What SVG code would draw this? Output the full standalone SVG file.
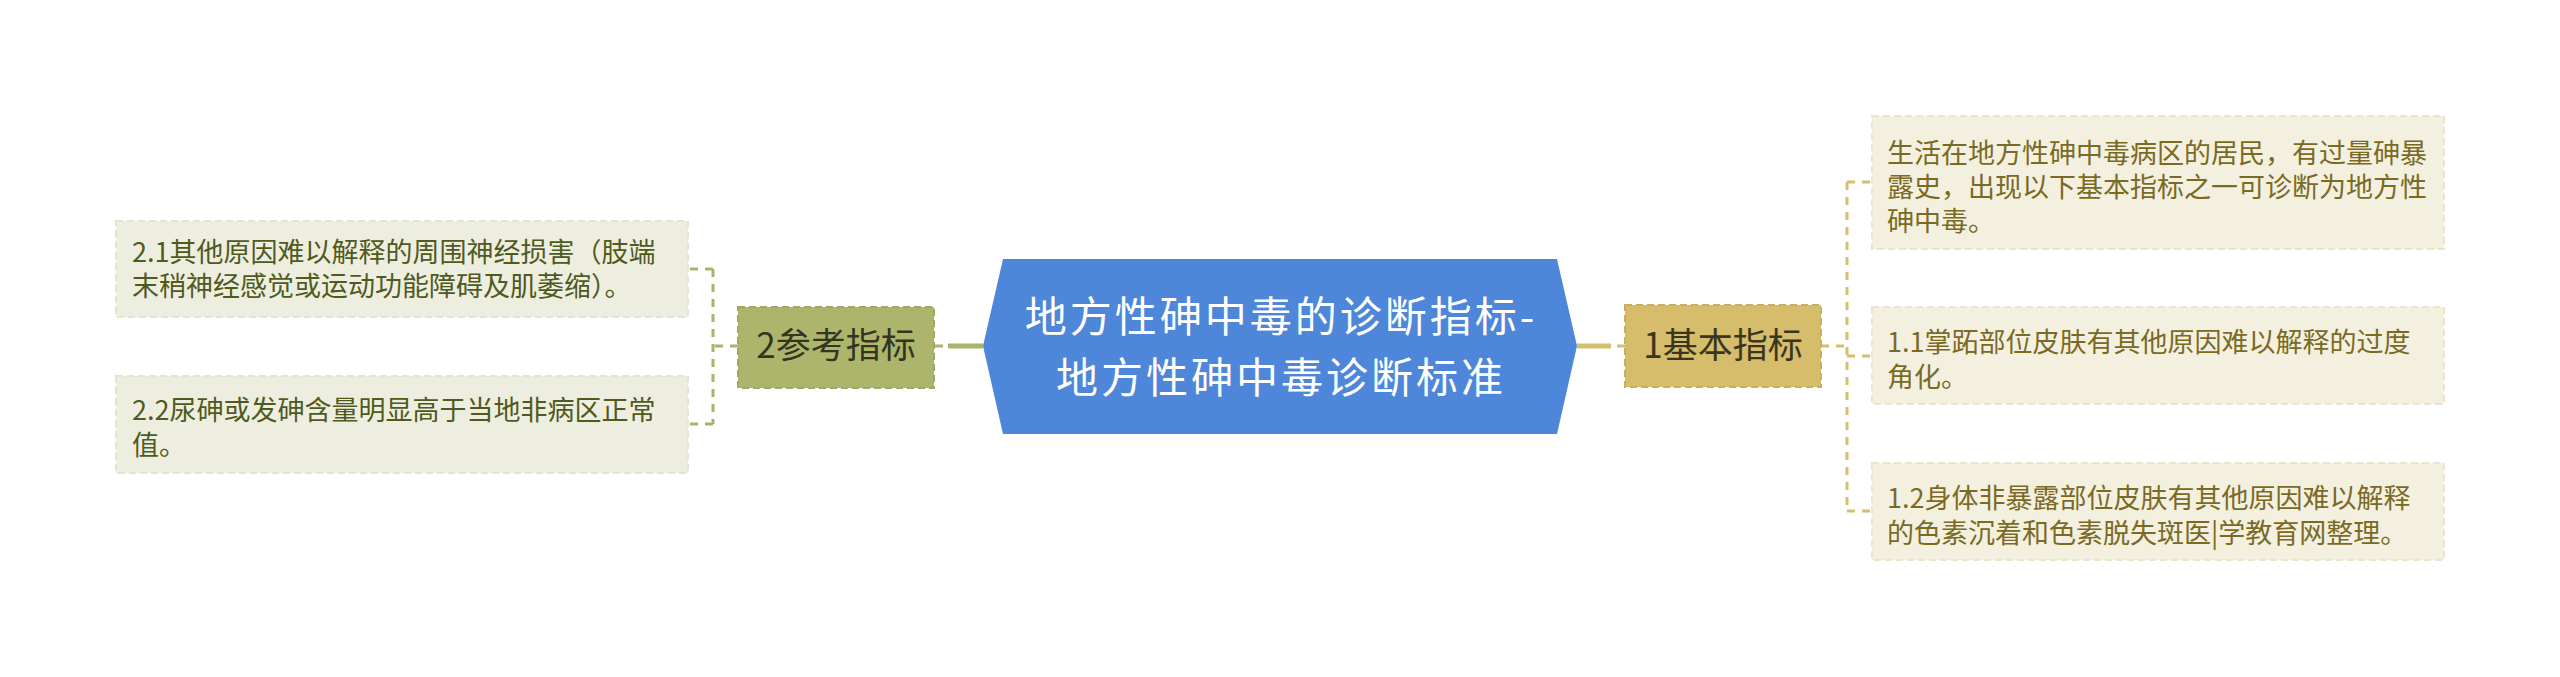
<svg xmlns="http://www.w3.org/2000/svg" width="2560" height="677" viewBox="0 0 2560 677">
<style>
text{font-family:"Noto Sans CJK SC","Noto Sans",sans-serif}
.center{fill:#ffffff;font-size:42px;letter-spacing:3px;text-anchor:middle}
.lbl{font-size:35px;text-anchor:middle}
.r{fill:#7a6a24;font-size:27px}
.l{fill:#4f5a1c;font-size:27px}
.gold{stroke:#d4bf6f;fill:none}
.olive{stroke:#a9b36b;fill:none}
.dash{stroke-width:3;stroke-dasharray:8 7}
</style>
<rect width="2560" height="677" fill="#ffffff"/>
<g id="connectors">
  <path class="gold" d="M1577 346H1611" stroke-width="5"/>
  <path class="gold" d="M1617 346H1625" stroke-width="3"/>
  <path class="gold dash" d="M1821 346H1847"/>
  <path class="gold dash" d="M1847 182V511"/>
  <path class="gold dash" d="M1847 182H1872"/>
  <path class="gold dash" d="M1847 356H1872"/>
  <path class="gold dash" d="M1847 511H1872"/>
  <path class="olive" d="M983 346H948" stroke-width="5"/>
  <path class="olive" d="M943 346H934" stroke-width="3"/>
  <path class="olive dash" d="M738 346H713"/>
  <path class="olive dash" d="M713 269V424"/>
  <path class="olive dash" d="M713 269H688"/>
  <path class="olive dash" d="M713 424H688"/>
</g>
<g id="root">
  <polygon points="1003,259 1557,259 1577,346 1557,434 1003,434 983,346" fill="#4e86d9"/>
  <text class="center" x="1281" y="332">地方性砷中毒的诊断指标-</text>
  <text class="center" x="1281" y="393">地方性砷中毒诊断标准</text>
</g>
<g id="n1">
  <rect x="1625" y="305" width="196" height="82" fill="#d5bd6b" stroke="#c8af5c" stroke-width="2" stroke-dasharray="7 4"/>
  <text class="lbl" x="1723" y="358" fill="#3a351e">1基本指标</text>
</g>
<g id="n1a">
  <rect x="1872" y="116" width="572" height="133" fill="#f4f0df" stroke="#ebe5cc" stroke-width="2" stroke-dasharray="7 4"/>
  <text class="r" x="1887" y="163">生活在地方性砷中毒病区的居民，有过量砷暴</text>
  <text class="r" x="1887" y="197">露史，出现以下基本指标之一可诊断为地方性</text>
  <text class="r" x="1887" y="231">砷中毒。</text>
</g>
<g id="n1b">
  <rect x="1872" y="307" width="572" height="97" fill="#f4f0df" stroke="#ebe5cc" stroke-width="2" stroke-dasharray="7 4"/>
  <text class="r" x="1887" y="352">1.1掌跖部位皮肤有其他原因难以解释的过度</text>
  <text class="r" x="1887" y="387">角化。</text>
</g>
<g id="n1c">
  <rect x="1872" y="463" width="572" height="97" fill="#f4f0df" stroke="#ebe5cc" stroke-width="2" stroke-dasharray="7 4"/>
  <text class="r" x="1887" y="508">1.2身体非暴露部位皮肤有其他原因难以解释</text>
  <text class="r" x="1887" y="543">的色素沉着和色素脱失斑医|学教育网整理。</text>
</g>
<g id="n2">
  <rect x="738" y="307" width="196" height="81" fill="#adb56c" stroke="#a0a95f" stroke-width="2" stroke-dasharray="7 4"/>
  <text class="lbl" x="836" y="358" fill="#33351f">2参考指标</text>
</g>
<g id="n2a">
  <rect x="116" y="221" width="572" height="96" fill="#eeeee0" stroke="#e4e4d2" stroke-width="2" stroke-dasharray="7 4"/>
  <text class="l" x="132" y="262">2.1其他原因难以解释的周围神经损害（肢端</text>
  <text class="l" x="132" y="296">末稍神经感觉或运动功能障碍及肌萎缩）。</text>
</g>
<g id="n2b">
  <rect x="116" y="376" width="572" height="97" fill="#eeeee0" stroke="#e4e4d2" stroke-width="2" stroke-dasharray="7 4"/>
  <text class="l" x="132" y="420">2.2尿砷或发砷含量明显高于当地非病区正常</text>
  <text class="l" x="132" y="455">值。</text>
</g>
</svg>
